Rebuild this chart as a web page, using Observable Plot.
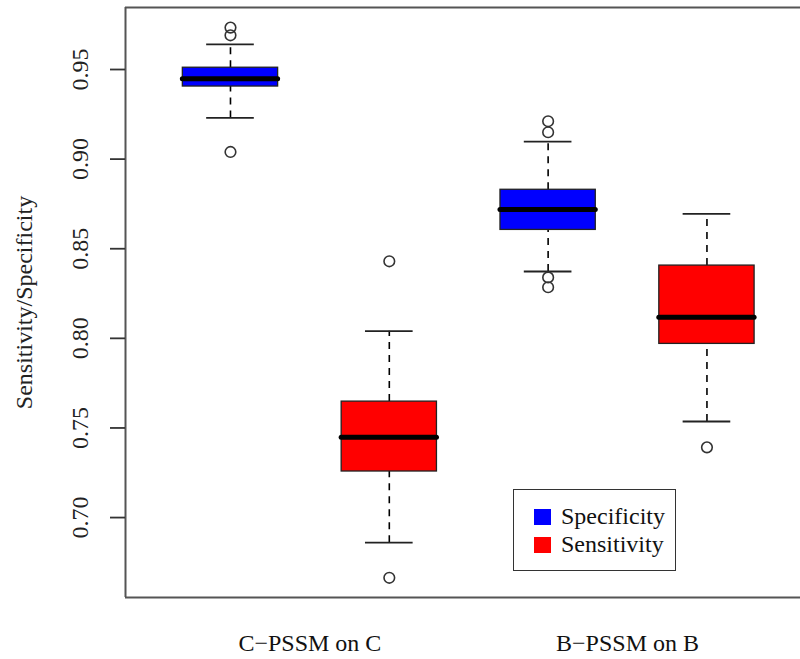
<!DOCTYPE html>
<html>
<head>
<meta charset="utf-8">
<script src="https://cdn.jsdelivr.net/npm/d3@7"></script>
<script src="https://cdn.jsdelivr.net/npm/@observablehq/plot@0.6"></script>
<style>
  html, body { margin: 0; padding: 0; background: #fff; }
  #wrap { position: relative; width: 800px; height: 659px; font-family: "Liberation Serif", "DejaVu Serif", serif; }
  #legend { position: absolute; left: 513px; top: 489px; width: 161px; height: 80px; border: 1.5px solid #333; background: #fff; }
  .row { position: absolute; left: 20px; display: flex; align-items: center; font-size: 24px; color: #111; }
  .sw { width: 17px; height: 16px; margin-right: 10px; }
</style>
</head>
<body>
<div id="wrap"></div>
<script>
// ---- data ----
const groupLabels = ["C−PSSM on C", "B−PSSM on B"];
const groupLabelPositions = [1.5, 3.5];
const seriesNames = ["Specificity", "Sensitivity"];
const seriesColors = ["#0000ff", "#ff0000"];
const boxSeries = ["Specificity", "Sensitivity", "Specificity", "Sensitivity"];
const boxPositions = [1, 2, 3, 4];
const lowerWhisker = [0.923, 0.686, 0.8373, 0.7536];
const q1Values = [0.9405, 0.7257, 0.8605, 0.7969];
const medianValues = [0.9448, 0.7448, 0.8719, 0.8118];
const q3Values = [0.951, 0.7647, 0.8829, 0.8406];
const upperWhisker = [0.964, 0.804, 0.9098, 0.8695];
const outlierValues = [
  [0.9734, 0.9691, 0.904],
  [0.843, 0.6664],
  [0.9211, 0.915, 0.834, 0.8285],
  [0.7392]
];
const yTicks = [0.70, 0.75, 0.80, 0.85, 0.90, 0.95];
const yTitle = "Sensitivity/Specificity";

// ---- build tables ----
const W = 800, H = 659, ML = 125, MT = 7, MB = 62, MR = 0;
const boxW = 0.3, capW = 0.15;
const colorOf = s => seriesColors[seriesNames.indexOf(s)];
const boxes = boxPositions.map((p, i) => ({
  pos: p, series: boxSeries[i],
  lo: lowerWhisker[i], q1: q1Values[i], med: medianValues[i], q3: q3Values[i], hi: upperWhisker[i]
}));
const outliers = boxPositions.flatMap((p, i) => outlierValues[i].map(v => ({pos: p, v})));
const xDomain = [0.339, 4.589];
const yDomain = [0.6554, 0.9846];
const unitsPerPx = (xDomain[1] - xDomain[0]) / (W - ML - MR);
const tickLen = 15 * unitsPerPx;
const font = "'Liberation Serif', 'DejaVu Serif', serif";

const chart = Plot.plot({
  width: W, height: H,
  marginLeft: ML, marginTop: MT, marginBottom: MB, marginRight: MR,
  x: {type: "linear", domain: xDomain, axis: null},
  y: {type: "linear", domain: yDomain, axis: null},
  style: {fontFamily: font, background: "#fff", overflow: "visible"},
  marks: [
    // whiskers (dashed)
    Plot.ruleX(boxes, {x: "pos", y1: "q3", y2: "hi", stroke: "#000", strokeWidth: 1.6, strokeDasharray: "7,6"}),
    Plot.ruleX(boxes, {x: "pos", y1: "lo", y2: "q1", stroke: "#000", strokeWidth: 1.6, strokeDasharray: "7,6"}),
    // caps
    Plot.ruleY(boxes, {y: "hi", x1: d => d.pos - capW, x2: d => d.pos + capW, stroke: "#222", strokeWidth: 1.8}),
    Plot.ruleY(boxes, {y: "lo", x1: d => d.pos - capW, x2: d => d.pos + capW, stroke: "#222", strokeWidth: 1.8}),
    // boxes
    Plot.rect(boxes, {x1: d => d.pos - boxW, x2: d => d.pos + boxW, y1: "q1", y2: "q3",
      fill: d => colorOf(d.series), stroke: "#222", strokeWidth: 1.3}),
    // medians
    Plot.ruleY(boxes, {y: "med", x1: d => d.pos - boxW, x2: d => d.pos + boxW, stroke: "#000", strokeWidth: 5, strokeLinecap: "round"}),
    // outliers
    Plot.dot(outliers, {x: "pos", y: "v", r: 5.3, stroke: "#333", strokeWidth: 1.6, fill: "none"}),
    // frame: left, top, bottom
    Plot.ruleX([xDomain[0]], {stroke: "#555", strokeWidth: 2}),
    Plot.ruleY(yDomain, {x1: xDomain[0], x2: xDomain[1], stroke: "#555", strokeWidth: 2}),
    // y ticks
    Plot.ruleY(yTicks, {x1: xDomain[0] - tickLen, x2: xDomain[0], stroke: "#333", strokeWidth: 1.8}),
    Plot.text(yTicks, {y: d => d, x: xDomain[0], text: d => d.toFixed(2), rotate: -90,
      dx: -45, textAnchor: "middle", lineAnchor: "middle", fontSize: 24, fill: "#222", fontFamily: font}),
    // y title
    Plot.text([yTitle], {frameAnchor: "left", dx: -101, rotate: -90, textAnchor: "middle", lineAnchor: "middle", fontSize: 24, fill: "#222", fontFamily: font}),
    // x group labels
    Plot.text(groupLabels, {x: (d, i) => groupLabelPositions[i], frameAnchor: "bottom", dy: 46,
      lineAnchor: "middle", textAnchor: "middle", fontSize: 24, fill: "#111", fontFamily: font})
  ]
});

const wrap = document.getElementById("wrap");
wrap.appendChild(chart);

// legend
const legend = document.createElement("div");
legend.id = "legend";
seriesNames.forEach((name, i) => {
  const row = document.createElement("div");
  row.className = "row";
  row.style.top = (i === 0 ? 13 : 41) + "px";
  const sw = document.createElement("div");
  sw.className = "sw";
  sw.style.background = seriesColors[i];
  const t = document.createElement("span");
  t.textContent = name;
  row.appendChild(sw); row.appendChild(t);
  legend.appendChild(row);
});
wrap.appendChild(legend);
</script>
</body>
</html>
